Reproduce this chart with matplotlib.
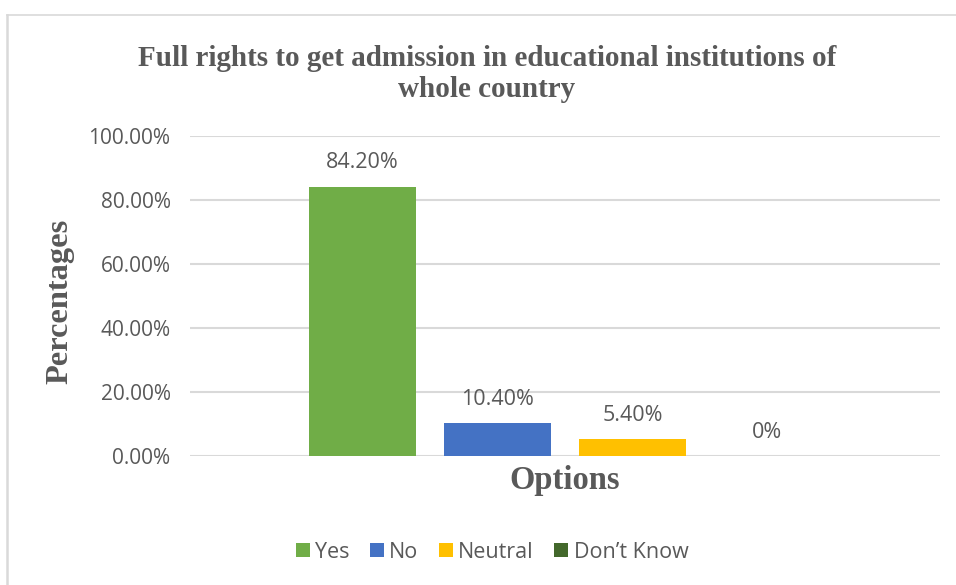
import matplotlib
matplotlib.use('Agg')
import matplotlib.pyplot as plt
import matplotlib.ticker as ticker
from matplotlib.patches import Patch
from matplotlib.lines import Line2D
import numpy as np

# survey answers and their shares
options = ['Yes', 'No', 'Neutral', 'Don\u2019t Know']
shares = [0.842, 0.104, 0.054, 0.0]
share_labels = ['84.20%', '10.40%', '5.40%', '0%']
yticks = [0.0, 0.2, 0.4, 0.6, 0.8, 1.0]

colors = ['#70AD47', '#4472C4', '#FFC000', '#43682B']
txt = '#595959'
grid = '#D9D9D9'
label_font = 'Open Sans'
serif_font = 'Liberation Serif'

W, H = 956, 585
fig = plt.figure(figsize=(W / 100, H / 100), dpi=100)

def fx(px):
    return px / W

def fy(py):
    return 1 - py / H

# chart frame (cut off on the right and bottom)
fig.add_artist(Line2D([fx(7), 1.0], [fy(15), fy(15)], color=grid, lw=1.2))
fig.add_artist(Line2D([fx(7), fx(7)], [fy(15), 0.0], color=grid, lw=1.8))

ax = fig.add_axes([fx(190), fy(456), fx(940) - fx(190), fy(136) - fy(456)])
x = np.arange(len(options))
bars = ax.bar(x, shares, width=0.793, color=colors, zorder=3)

for xi, v, lab in zip(x, shares, share_labels):
    ax.annotate(lab, (xi, v), xytext=(0, 17), textcoords='offset points',
                ha='center', va='center', fontsize=15.5, color=txt, family=label_font)

ax.set_xlim(-1.278, 4.278)
ax.set_ylim(0, 1.0)
ax.set_yticks(yticks)
ax.yaxis.set_major_formatter(ticker.FuncFormatter(lambda v, p: '{:.2f}%'.format(v * 100)))
ax.set_xticks([])
ax.tick_params(axis='y', length=0, pad=14, labelsize=15, labelcolor=txt)
for t in ax.get_yticklabels():
    t.set_family(label_font)
for s in ax.spines.values():
    s.set_visible(False)
ax.yaxis.grid(True, color=grid, lw=1.5, zorder=0)
ax.set_axisbelow(True)

fig.text(fx(60), fy(301), 'Percentages', rotation=90, ha='center', va='center',
         fontsize=23.3, fontweight='bold', color=txt, family=serif_font)
fig.text(fx(565), fy(481), 'Options', ha='center', va='center',
         fontsize=23.5, fontweight='bold', color=txt, family=serif_font)
fig.text(fx(487), fy(74), 'Full rights to get admission in educational institutions of\nwhole country',
         ha='center', va='center', fontsize=21, fontweight='bold', color=txt,
         family=serif_font, linespacing=1.15)

handles = [Patch(facecolor=c, edgecolor='none') for c in colors]
leg = fig.legend(handles, options, loc='center', bbox_to_anchor=(fx(492), fy(552)),
                 ncol=4, frameon=False, handlelength=0.65, handleheight=0.65,
                 handletextpad=0.25, columnspacing=0.95,
                 prop={'family': label_font, 'size': 15.5})
for t in leg.get_texts():
    t.set_color(txt)

fig.savefig('out.png', dpi=100)
